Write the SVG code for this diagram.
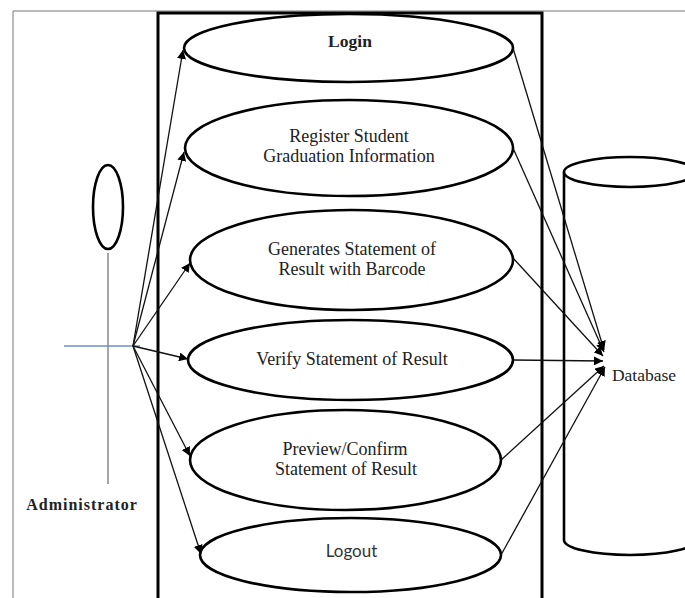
<svg xmlns="http://www.w3.org/2000/svg" width="685" height="598" viewBox="0 0 685 598">
<style>
.uc{fill:#fff;stroke:#000;stroke-width:2.6}
.t{font-family:"Liberation Serif","Times New Roman",serif;font-size:18px;fill:#222;text-anchor:middle}
.c{stroke:#111;stroke-width:1.3;fill:none}
</style>
<defs>
<marker id="ah" viewBox="0 0 10 10" refX="10" refY="5" markerWidth="9" markerHeight="9" markerUnits="userSpaceOnUse" orient="auto">
<path d="M0,0 L10,5 L0,10 z" fill="#000"/>
</marker>
</defs>
<rect width="685" height="598" fill="#fff"/>
<path d="M13,598 V11 H685" fill="none" stroke="#777" stroke-width="1"/>
<rect id="system" x="158" y="13" width="384" height="600" fill="none" stroke="#000" stroke-width="3"/>
<g id="db">
<path d="M564,172 V540 A66,15 0 0 0 696,540 V172" fill="#fff" stroke="#000" stroke-width="2.6"/>
<ellipse cx="630" cy="172" rx="66" ry="15" fill="#fff" stroke="#000" stroke-width="2.6"/>
<text class="t" x="644" y="381" style="font-size:17.5px">Database</text>
</g>
<g id="actor">
<ellipse cx="108" cy="207" rx="15" ry="42" fill="none" stroke="#000" stroke-width="2.6"/>
<line x1="108" y1="253" x2="108" y2="484" stroke="#888" stroke-width="1.5"/>
<line x1="64" y1="346" x2="140" y2="346" stroke="#6a8fc8" stroke-width="1.5"/>
<text x="82" y="510" font-family="Liberation Serif,serif" font-size="16" font-weight="bold" text-anchor="middle" fill="#222" letter-spacing="1">Administrator</text>
</g>
<g id="login"><ellipse class="uc" cx="348.5" cy="48" rx="164.5" ry="34"/><text class="t" x="350" y="47" style="font-size:17.5px;font-weight:bold">Login</text></g>
<g id="register"><ellipse class="uc" cx="349" cy="148" rx="164" ry="48"/><text class="t" x="349" y="142">Register Student</text><text class="t" x="349" y="162">Graduation Information</text></g>
<g id="generate"><ellipse class="uc" cx="351.5" cy="260" rx="161.5" ry="50"/><text class="t" x="352" y="255">Generates Statement of</text><text class="t" x="352" y="275">Result with Barcode</text></g>
<g id="verify"><ellipse class="uc" cx="350.5" cy="360" rx="162.5" ry="40"/><text class="t" x="352" y="365">Verify Statement of Result</text></g>
<g id="preview"><ellipse class="uc" cx="345.5" cy="460" rx="155.5" ry="50"/><text class="t" x="345" y="455">Preview/Confirm</text><text class="t" x="346" y="475">Statement of Result</text></g>
<g id="logout"><ellipse class="uc" cx="350.5" cy="555" rx="150.5" ry="37"/><text x="351.5" y="557" font-family="Lato,'Open Sans',sans-serif" font-size="17" fill="#333" text-anchor="middle">Logout</text></g>
<g id="connectors">
<line class="c" x1="133" y1="346" x2="183" y2="50" marker-end="url(#ah)"/>
<line class="c" x1="133" y1="346" x2="184" y2="152" marker-end="url(#ah)"/>
<line class="c" x1="133" y1="346" x2="190" y2="263" marker-end="url(#ah)"/>
<line class="c" x1="133" y1="346" x2="188" y2="359" marker-end="url(#ah)"/>
<line class="c" x1="133" y1="346" x2="190" y2="456" marker-end="url(#ah)"/>
<line class="c" x1="133" y1="346" x2="201" y2="554" marker-end="url(#ah)"/>
<line class="c" x1="513" y1="48" x2="604" y2="350" marker-end="url(#ah)"/>
<line class="c" x1="513" y1="148" x2="604" y2="352" marker-end="url(#ah)"/>
<line class="c" x1="513" y1="258" x2="603" y2="356" marker-end="url(#ah)"/>
<line class="c" x1="513" y1="360" x2="603" y2="361" marker-end="url(#ah)"/>
<line class="c" x1="501" y1="460" x2="604" y2="366" marker-end="url(#ah)"/>
<line class="c" x1="501" y1="555" x2="605" y2="367" marker-end="url(#ah)"/>
</g>
</svg>
